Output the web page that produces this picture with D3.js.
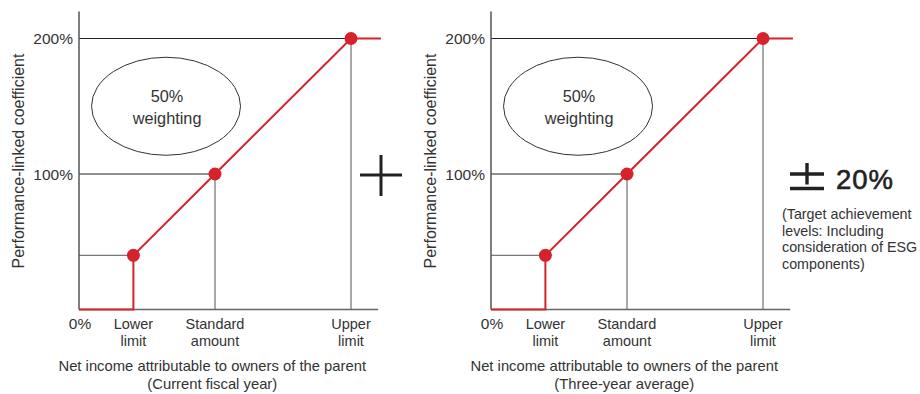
<!DOCTYPE html>
<html>
<head>
<meta charset="utf-8">
<script src="https://cdn.jsdelivr.net/npm/d3@7"></script>
<style>
  body { margin: 0; background: #fff; }
  svg { display: block; font-family: "Liberation Sans", Arial, sans-serif; }
  .lbl { fill: #333; }
  .guide { stroke: #333; stroke-width: 1; fill: none; }
  .curve { stroke: #d6222b; stroke-width: 2; fill: none; }
</style>
</head>
<body>
<svg id="chart" width="920" height="394"></svg>
<script>
  // x values are share of the upper limit, y values are coefficient in %
  var xTickValues = [0, 0.2, 0.5, 1.0];
  var xTickLabels = [["0%"], ["Lower", "limit"], ["Standard", "amount"], ["Upper", "limit"]];
  var yTickValues = [100, 200];
  var yTickLabels = ["100%", "200%"];
  var curveX = [0, 0.2, 0.2, 0.5, 1.0, 1.11];
  var curveY = [0, 0, 40, 100, 200, 200];
  var pointX = [0.2, 0.5, 1.0];
  var pointY = [40, 100, 200];
  var panelSubtitles = ["(Current fiscal year)", "(Three-year average)"];
  var weightingLabel = ["50%", "weighting"];
  var yTitle = "Performance-linked coefficient";
  var xTitle = "Net income attributable to owners of the parent";
  var adjustLabel = "20%";
  var adjustNote = ["(Target achievement", "levels: Including", "consideration of ESG", "components)"];

  var svg = d3.select("#chart");
  var red = "#d6222b";
  var panelLeft = [79, 491];

  panelSubtitles.forEach(function(sub, p) {
    var x = d3.scaleLinear().domain([0, 1]).range([panelLeft[p], panelLeft[p] + 272]);
    var y = d3.scaleLinear().domain([0, 200]).range([309.5, 38.5]);
    var g = svg.append("g");

    // guide lines from the axis to each point
    pointX.forEach(function(px, i) {
      g.append("line").attr("class", "guide")
        .attr("x1", x(0)).attr("x2", x(px))
        .attr("y1", y(pointY[i])).attr("y2", y(pointY[i]))
        .style("stroke", i == 0 ? "#555" : "#222");
      if (i > 0)
        g.append("line").attr("class", "guide")
          .attr("x1", x(px)).attr("x2", x(px))
          .attr("y1", y(pointY[i])).attr("y2", y(0))
          .style("stroke", "#555");
    });

    // axes
    g.append("line")
      .attr("x1", x(0)).attr("x2", x(0))
      .attr("y1", y(220)).attr("y2", y(0))
      .attr("stroke", "#555").attr("stroke-width", 1.5);
    g.append("line")
      .attr("x1", x(0)).attr("x2", x(1.1))
      .attr("y1", y(0)).attr("y2", y(0))
      .attr("stroke", "#666").attr("stroke-width", 1.6);

    // red curve
    var line = d3.line().x(function(d) { return x(d[0]); }).y(function(d) { return y(d[1]); });
    g.append("path").attr("class", "curve")
      .attr("d", line(d3.zip(curveX, curveY)));
    g.selectAll("circle.pt").data(d3.zip(pointX, pointY)).enter()
      .append("circle").attr("class", "pt")
      .attr("cx", function(d) { return x(d[0]); })
      .attr("cy", function(d) { return y(d[1]); })
      .attr("r", 6.5).attr("fill", red);

    // y tick labels
    yTickValues.forEach(function(v, i) {
      g.append("text").attr("class", "lbl")
        .attr("x", x(0) - 6).attr("y", y(v) + 5.5)
        .attr("text-anchor", "end").attr("font-size", 15.5)
        .text(yTickLabels[i]);
    });

    // x tick labels
    xTickValues.forEach(function(v, i) {
      var t = g.append("text").attr("class", "lbl")
        .attr("text-anchor", "middle").attr("font-size", i == 0 ? 15.5 : 14.5);
      xTickLabels[i].forEach(function(s, k) {
        t.append("tspan").attr("x", x(v) + (i == 0 ? 1 : 0)).attr("y", 329 + k * 17).text(s);
      });
    });

    // axis titles
    g.append("text").attr("class", "lbl")
      .attr("text-anchor", "middle").attr("font-size", 16)
      .attr("transform", "translate(" + (x(0) - 55) + "," + 161 + ") rotate(-90)")
      .text(yTitle);
    var xt = g.append("text").attr("class", "lbl")
      .attr("text-anchor", "middle").attr("font-size", 14.8);
    xt.append("tspan").attr("x", x(0.49)).attr("y", 371).text(xTitle);
    xt.append("tspan").attr("x", x(0.49)).attr("y", 389).text(sub);

    // weighting bubble
    g.append("ellipse")
      .attr("cx", x(0.32)).attr("cy", y(150))
      .attr("rx", 74.5).attr("ry", 49)
      .attr("fill", "none").attr("stroke", "#333").attr("stroke-width", 1);
    weightingLabel.forEach(function(s, k) {
      g.append("text").attr("class", "lbl")
        .attr("x", x(0.32) + 1).attr("y", 102 + k * 22)
        .attr("text-anchor", "middle").attr("font-size", 16.3)
        .text(s);
    });
  });

  // plus sign between panels
  svg.append("path")
    .attr("d", "M360,175H402M381,155V196")
    .attr("stroke", "#222").attr("stroke-width", 3).attr("fill", "none");

  // ± 20% adjustment
  svg.append("path")
    .attr("d", "M790,174H824M807,163V184.5M790,188.5H824")
    .attr("stroke", "#222").attr("stroke-width", 3.4).attr("fill", "none");
  svg.append("text").attr("class", "lbl")
    .attr("x", 836).attr("y", 189)
    .attr("font-size", 27.5).attr("letter-spacing", 1)
    .style("fill", "#222").style("stroke", "#222").style("stroke-width", 0.6)
    .text(adjustLabel);
  adjustNote.forEach(function(s, k) {
    svg.append("text").attr("class", "lbl")
      .attr("x", 782).attr("y", 219 + k * 16.7)
      .attr("font-size", 14.3)
      .text(s);
  });
</script>
</body>
</html>
